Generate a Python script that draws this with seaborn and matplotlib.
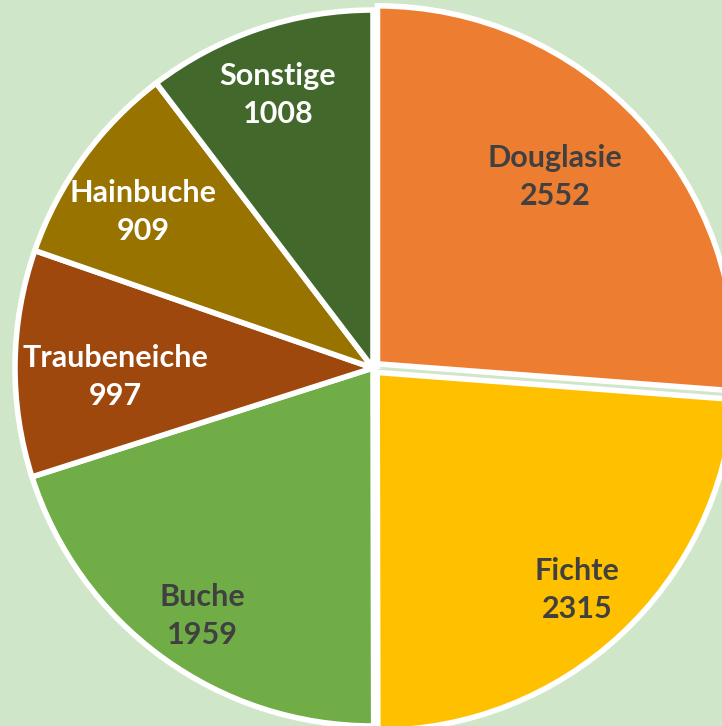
import numpy as np
import seaborn as sns
import matplotlib.pyplot as plt

# Data
species = ['Douglasie', 'Fichte', 'Buche', 'Traubeneiche', 'Hainbuche', 'Sonstige']
counts = [2552, 2315, 1959, 997, 909, 1008]
colors = ['#ED7D31', '#FFC000', '#70AD47', '#9E480E', '#997300', '#43682B']
text_colors = ['#404040', '#404040', '#404040', 'white', 'white', 'white']
label_radius = [0.737, 0.842, 0.841, 0.721, 0.776, 0.807]
label_turn = [3.6, -0.3, 1.5, 2.7, 1.8, 0.6]   # degrees off the wedge middle
explode = [0.017, 0.017, 0, 0, 0, 0]

sns.set_theme(style="white")
plt.rcParams['font.family'] = ['Lato', 'DejaVu Sans']

bg = '#CFE7C8'
fig = plt.figure(figsize=(7.22, 7.26), dpi=100, facecolor=bg)
ax = fig.add_axes([0, 0, 1, 1])
ax.set_facecolor(bg)

labels = [f'{s}\n{c}' for s, c in zip(species, counts)]
wedges, texts = ax.pie(counts, labels=labels, colors=sns.color_palette(colors),
                       startangle=90, counterclock=False, explode=explode,
                       labeldistance=0.8,
                       wedgeprops=dict(edgecolor='white', linewidth=4))

#Put labels where the original has them
for w, t, r, turn, col in zip(wedges, texts, label_radius, label_turn, text_colors):
    ang = np.deg2rad((w.theta1 + w.theta2) / 2 + turn)
    t.set_position((r * np.cos(ang), r * np.sin(ang)))
    t.set_ha('center')
    t.set_va('center')
    t.set_color(col)
    t.set_fontsize(22)
    t.set_fontweight('bold')
    t.set_linespacing(1.45)

# center at pixel (373, 368), radius 358 px
ax.set_xlim(-373 / 358, (722 - 373) / 358)
ax.set_ylim(-(726 - 368) / 358, 368 / 358)
ax.set_aspect('auto')
ax.axis('off')

plt.savefig('out.png', dpi=100, facecolor=bg)
